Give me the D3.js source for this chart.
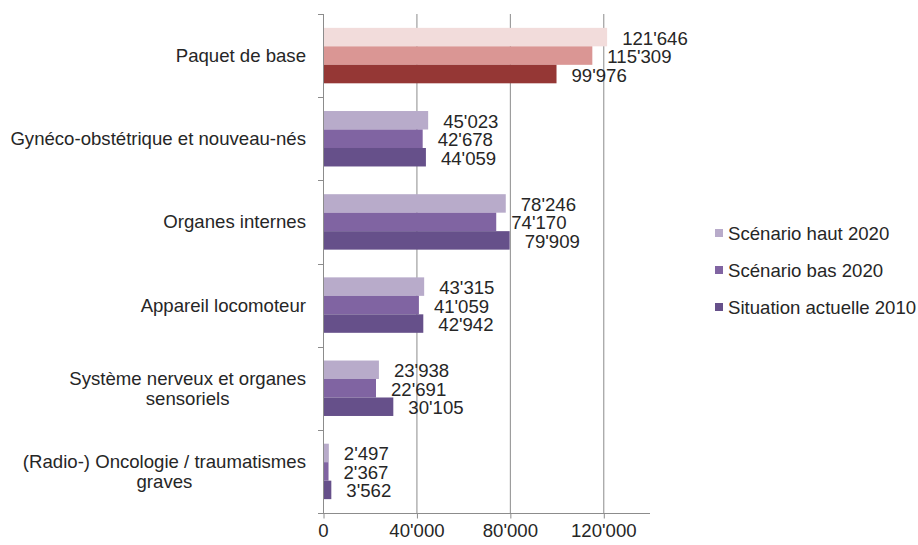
<!DOCTYPE html>
<html><head><meta charset="utf-8">
<script src="https://cdn.jsdelivr.net/npm/d3@7"></script>
<style>
body{margin:0;background:#fff;}
text{font-family:"Liberation Sans",Arial,sans-serif;fill:#262626;}
</style></head>
<body><svg id="c" width="918" height="545"></svg>
<script>
const categories = ["Paquet de base","Gynéco-obstétrique et nouveau-nés","Organes internes","Appareil locomoteur","Système nerveux et organes sensoriels","(Radio-) Oncologie / traumatismes graves"];
const categoryLines = [["Paquet de base"],["Gynéco-obstétrique et nouveau-nés"],["Organes internes"],["Appareil locomoteur"],["Système nerveux et organes","sensoriels"],["(Radio-) Oncologie / traumatismes","graves"]];
const seriesNames = ["Scénario haut 2020","Scénario bas 2020","Situation actuelle 2010"];
const hautValues = [121646,45023,78246,43315,23938,2497];
const basValues = [115309,42678,74170,41059,22691,2367];
const actuelleValues = [99976,44059,79909,42942,30105,3562];
const xTicks = [0,40000,80000,120000];
const xMax = 140000;

const purple = ["#b8abca","#8064a2","#66508a"];
const red = ["#f2dcdb","#da9694","#953735"];

const svg = d3.select("#c");
const L = 323, R = 650, T = 14, B = 513;
const x = d3.scaleLinear().domain([0,xMax]).range([L,R]);
const y = d3.scaleBand().domain(categories).range([T,B]).paddingInner(1/3).paddingOuter(1/6);
const ys = d3.scaleBand().domain(seriesNames).range([0,y.bandwidth()]);
const fmt = v => d3.format(",")(v).replace(/,/g,"'");
const FS = 18.6;

// gridlines
svg.append("g").selectAll("line").data(xTicks.filter(d=>d>0)).join("line")
  .attr("x1",d=>x(d)+0.5).attr("x2",d=>x(d)+0.5).attr("y1",T).attr("y2",B)
  .attr("stroke","#8c8c8c").attr("stroke-width",1);

// bars
const data = [];
categories.forEach((c,i)=>{
  [hautValues,basValues,actuelleValues].forEach((arr,j)=>{
    data.push({c, s:seriesNames[j], v:arr[i], color:(i===0?red:purple)[j]});
  });
});
svg.append("g").selectAll("rect").data(data).join("rect")
  .attr("x",x(0)).attr("y",d=>y(d.c)+ys(d.s)).attr("width",d=>x(d.v)-x(0)).attr("height",ys.bandwidth())
  .attr("fill",d=>d.color);

// value labels
svg.append("g").selectAll("text").data(data).join("text")
  .attr("x",d=>x(d.v)+15).attr("y",d=>y(d.c)+ys(d.s)+ys.bandwidth()/2+1).attr("dy","0.35em")
  .attr("font-size",FS).text(d=>fmt(d.v));

// x axis
const xa = svg.append("g").attr("transform",`translate(0,${B+0.5})`)
  .call(d3.axisBottom(x).tickValues(xTicks).tickFormat(fmt).tickSize(5).tickPadding(5));
xa.select(".domain").attr("stroke","#8c8c8c").attr("d",`M${L},0H${R}`);
xa.selectAll(".tick line").attr("stroke","#8c8c8c").attr("transform","translate(0.5,0)");
xa.selectAll(".tick text").attr("font-size",FS).attr("font-family","Liberation Sans, Arial, sans-serif").attr("fill","#262626");

// y axis line and ticks at category boundaries
svg.append("line").attr("x1",L+0.5).attr("x2",L+0.5).attr("y1",T).attr("y2",B+0.5).attr("stroke","#8c8c8c");
const bounds = d3.range(categories.length+1).map(i=>T+i*y.step());
svg.append("g").selectAll("line").data(bounds).join("line")
  .attr("x1",L-5).attr("x2",L).attr("y1",d=>Math.round(d)+0.5).attr("y2",d=>Math.round(d)+0.5).attr("stroke","#8c8c8c");

// category labels
const lh = 20;
categories.forEach((c,i)=>{
  const lines = categoryLines[i];
  const g = svg.append("g");
  const t = g.append("text").attr("font-size",FS).attr("text-anchor","middle");
  const cy = y(c)+y.bandwidth()/2;
  const y0 = cy - (lines.length-1)*lh/2;
  lines.forEach((ln,k)=>t.append("tspan").attr("y",y0+k*lh).attr("dy","0.35em").text(ln));
  let w = 0; t.selectAll("tspan").each(function(){w=Math.max(w,this.getComputedTextLength());});
  t.selectAll("tspan").attr("x",306-w/2);
});

// legend
const lg = svg.append("g").attr("transform","translate(715,233)");
seriesNames.forEach((s,i)=>{
  const gy = i*37;
  lg.append("rect").attr("x",0).attr("y",gy-4).attr("width",8).attr("height",8).attr("fill",purple[i]);
  lg.append("text").attr("x",13).attr("y",gy).attr("dy","0.35em").attr("font-size",FS).text(s);
});
</script></body></html>
